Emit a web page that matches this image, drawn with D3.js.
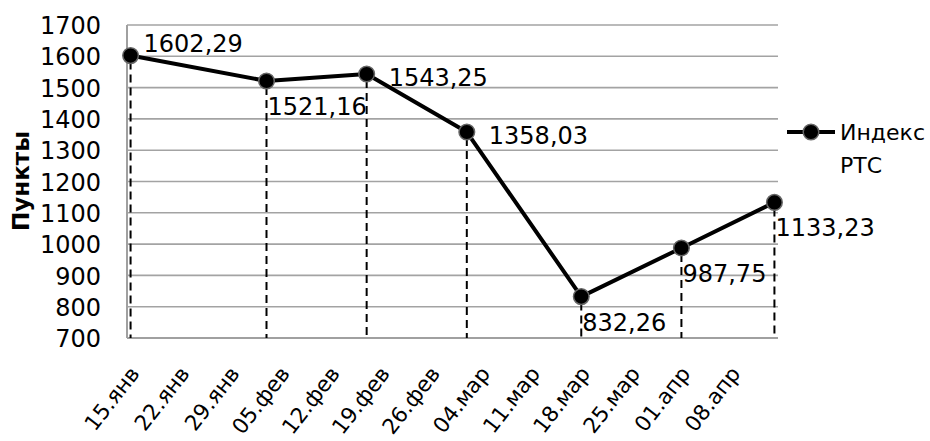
<!DOCTYPE html>
<html><head><meta charset="utf-8">
<script src="https://cdn.jsdelivr.net/npm/d3@7"></script>
<style>
html,body{margin:0;padding:0;background:#fff;}
svg{display:block;}
text{font-family:"DejaVu Sans",Verdana,sans-serif;fill:#000;}
</style></head>
<body>
<svg id="chart" width="930" height="441"></svg>
<script>
// ---- data ----
const dates = ["2020-01-15","2020-02-03","2020-02-17","2020-03-02","2020-03-18","2020-04-01","2020-04-14"];
const values = [1602.29, 1521.16, 1543.25, 1358.03, 832.26, 987.75, 1133.23];
const valueLabels = ["1602,29","1521,16","1543,25","1358,03","832,26","987,75","1133,23"];
const labelPos = ["ur","br","r","r","br","br","br"];
const tickDates = ["2020-01-15","2020-01-22","2020-01-29","2020-02-05","2020-02-12","2020-02-19","2020-02-26","2020-03-04","2020-03-11","2020-03-18","2020-03-25","2020-04-01","2020-04-08"];
const tickLabels = ["15.янв","22.янв","29.янв","05.фев","12.фев","19.фев","26.фев","04.мар","11.мар","18.мар","25.мар","01.апр","08.апр"];
const yTicks = [700,800,900,1000,1100,1200,1300,1400,1500,1600,1700];
const seriesName = ["Индекс", "РТС"];
const yTitle = "Пункты";

const svg = d3.select("#chart");
const L = 127, R = 778, T = 25, B = 338;
const parse = d3.utcParse("%Y-%m-%d");
const x = d3.scaleUtc().domain([parse("2020-01-15"), parse("2020-04-15")]).range([L, R]);
const y = d3.scaleLinear().domain([700, 1700]).range([B, T]);
const mid = d => d3.utcHour.offset(parse(d), 12);
const FONT = '"DejaVu Sans",Verdana,sans-serif';

// gridlines
svg.append("g").selectAll("line").data(yTicks.slice(1)).join("line")
  .attr("x1", L).attr("x2", R).attr("y1", d => y(d)).attr("y2", d => y(d))
  .attr("stroke", "#a3a3a3").attr("stroke-width", 1.6);

// y axis labels
const yAxis = d3.axisLeft(y).tickValues(yTicks).tickSize(0).tickPadding(0).tickFormat(d3.format("d"));
const gy = svg.append("g").attr("transform", `translate(${L-26},0)`).call(yAxis);
gy.select(".domain").remove();
gy.selectAll("text").attr("font-size", 24).attr("font-family", FONT).attr("fill", "#000").attr("dy", "0.36em");

// axes lines
svg.append("line").attr("x1", L).attr("x2", L).attr("y1", T).attr("y2", B).attr("stroke", "#a0a0a0").attr("stroke-width", 2);
svg.append("line").attr("x1", L).attr("x2", R).attr("y1", B).attr("y2", B).attr("stroke", "#a0a0a0").attr("stroke-width", 2.2);

// x axis labels
const xAxis = d3.axisBottom(x).tickValues(tickDates.map(parse)).tickSize(0).tickFormat((d, i) => tickLabels[i]);
const gx = svg.append("g").attr("transform", `translate(0,${B})`).call(xAxis);
gx.select(".domain").remove();
gx.selectAll("text").attr("font-size", 21.5).attr("font-family", FONT).attr("fill", "#000")
  .attr("text-anchor", "end").attr("dy", 0).attr("y", 0)
  .attr("transform", "translate(13,36) rotate(-52)");

const pts = dates.map((d, i) => ({x: x(mid(d)), y: y(values[i]), lab: valueLabels[i], pos: labelPos[i]}));

// drop lines
svg.append("g").selectAll("line").data(pts).join("line")
  .attr("x1", d => d.x).attr("x2", d => d.x).attr("y1", d => d.y + 6).attr("y2", B)
  .attr("stroke", "#000").attr("stroke-width", 2).attr("stroke-dasharray", "8,5");

// line
svg.append("path").datum(pts).attr("fill", "none").attr("stroke", "#000").attr("stroke-width", 4)
  .attr("stroke-linejoin", "round")
  .attr("d", d3.line().x(d => d.x).y(d => d.y));

// markers
svg.append("g").selectAll("circle").data(pts).join("circle")
  .attr("cx", d => d.x).attr("cy", d => d.y).attr("r", 7.8)
  .attr("fill", "#000").attr("stroke", "#666").attr("stroke-width", 1.5);

// data labels
const off = {ur: [13, -4], br: [1, 34], r: [22, 12]};
svg.append("g").selectAll("text").data(pts).join("text")
  .attr("x", d => d.x + off[d.pos][0]).attr("y", d => d.y + off[d.pos][1])
  .attr("font-size", 24).text(d => d.lab);

// y title
svg.append("text").attr("transform", "translate(29,181) rotate(-90)").attr("text-anchor", "middle")
  .attr("font-size", 23).attr("font-weight", "bold").text(yTitle);

// legend
svg.append("line").attr("x1", 787).attr("x2", 835).attr("y1", 132).attr("y2", 132).attr("stroke", "#000").attr("stroke-width", 4);
svg.append("circle").attr("cx", 811).attr("cy", 132).attr("r", 7.8).attr("fill", "#000").attr("stroke", "#666").attr("stroke-width", 1.5);
svg.append("text").attr("x", 840).attr("y", 140).attr("font-size", 22).text(seriesName[0]);
svg.append("text").attr("x", 840).attr("y", 173).attr("font-size", 22).text(seriesName[1]);
</script>
</body></html>
